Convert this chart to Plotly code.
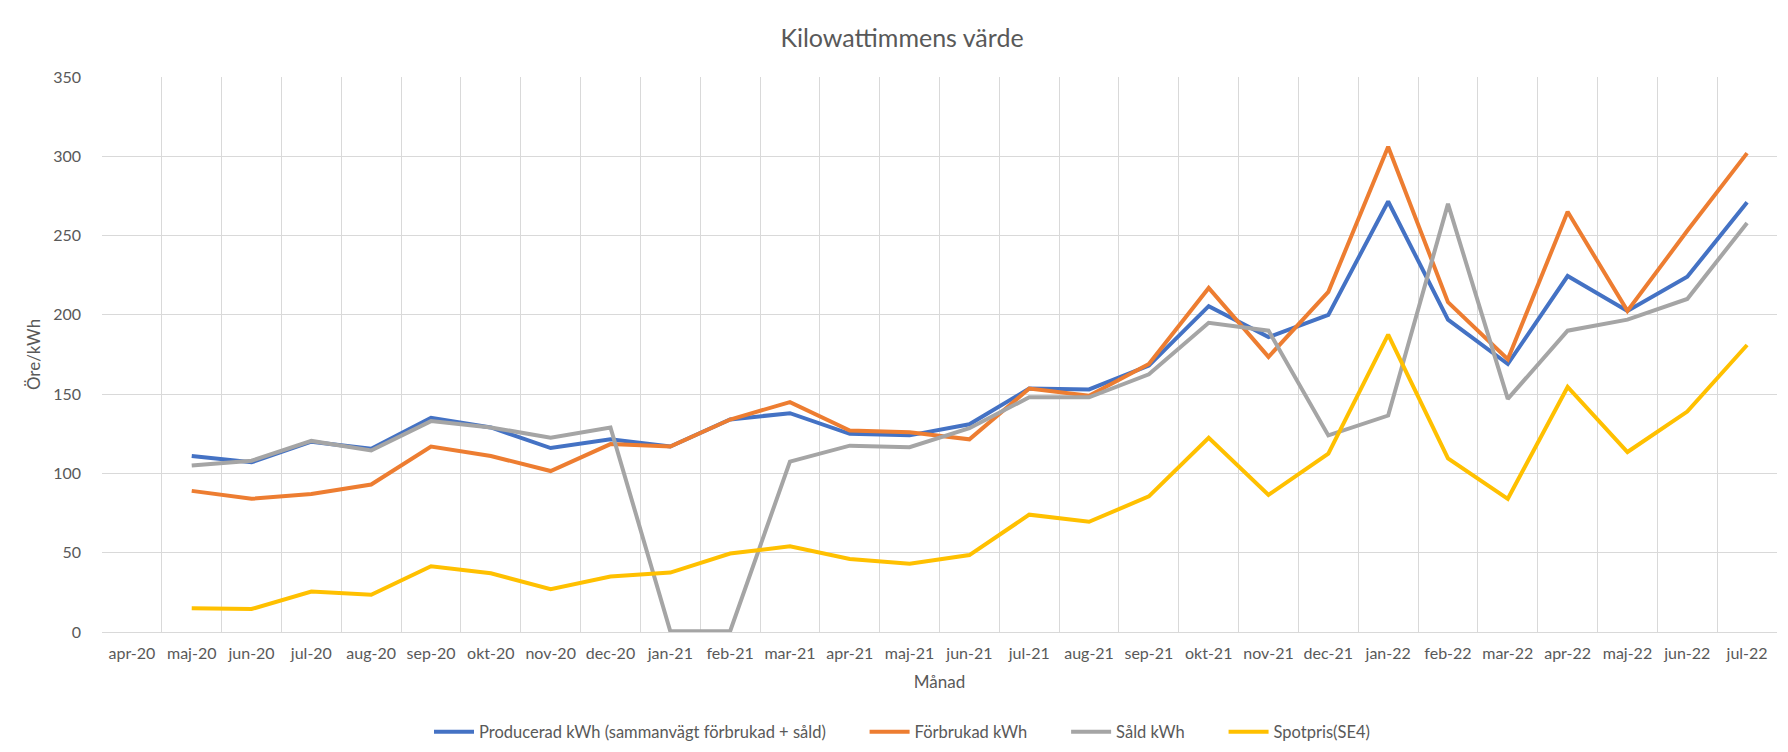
import plotly.graph_objects as go

months = ["apr-20", "maj-20", "jun-20", "jul-20", "aug-20", "sep-20", "okt-20", "nov-20", "dec-20",
          "jan-21", "feb-21", "mar-21", "apr-21", "maj-21", "jun-21", "jul-21", "aug-21", "sep-21",
          "okt-21", "nov-21", "dec-21", "jan-22", "feb-22", "mar-22", "apr-22", "maj-22", "jun-22", "jul-22"]

producerad = [None, 111, 107, 120, 115.5, 135, 129, 116, 121.5,
              117, 134, 138, 125, 124, 131, 153.5, 153, 168,
              205.5, 186, 200, 271.5, 197, 169, 224.5, 202.5, 224, 271]
forbrukad = [None, 89, 84, 87, 93, 117, 111, 101.5, 118.5,
             117, 134, 145, 127, 126, 121.5, 153.5, 149, 169,
             217, 173.5, 214.5, 306, 208, 172, 265, 202.5, 253, 302]
sald = [None, 105, 108, 120.5, 114.5, 133, 129, 122.5, 129,
        0.5, 0.5, 107.5, 117.5, 116.5, 128.5, 148, 148, 162.5,
        195, 190, 124, 136.5, 270, 147, 190, 197, 210, 258]
spotpris = [None, 15, 14.5, 25.5, 23.5, 41.5, 37, 27, 35,
            37.5, 49.5, 54, 46, 43, 48.5, 74, 69.5, 85.5,
            122.5, 86.5, 112.5, 187.5, 109.5, 84, 154.5, 113.5, 139, 181]

series_names = ["Producerad kWh (sammanvägt förbrukad + såld)", "Förbrukad kWh", "Såld kWh", "Spotpris(SE4)"]
series_values = [producerad, forbrukad, sald, spotpris]
series_colors = ["#4472C4", "#ED7D31", "#A5A5A5", "#FFC000"]

font_family = "Lato, 'Open Sans', sans-serif"
text_color = "#595959"
grid_color = "#D9D9D9"
pad = "\u00a0" * 8

fig = go.Figure()
for i, (name, vals, color) in enumerate(zip(series_names, series_values, series_colors)):
    label = name + (pad if i < len(series_names) - 1 else "")
    fig.add_trace(go.Scatter(
        x=months, y=vals, name=label, mode="lines",
        line=dict(color=color, width=4),
        connectgaps=False,
    ))

fig.update_layout(
    width=1788, height=752,
    paper_bgcolor="white", plot_bgcolor="white",
    margin=dict(l=94, r=19, t=69, b=128),
    font=dict(family=font_family, color=text_color, size=16),
    title=dict(text="Kilowattimmens värde", x=0.5, xref="container", xanchor="center",
               y=1 - 30 / 752, yref="container", yanchor="middle",
               font=dict(size=25, color=text_color, family=font_family)),
    showlegend=True,
    legend=dict(orientation="h", x=0.5, xref="container", xanchor="center",
                y=1 - 724 / 752, yref="container", yanchor="middle",
                font=dict(size=16.5, color=text_color), itemwidth=40,
                traceorder="normal"),
    xaxis=dict(
        type="category", categoryorder="array", categoryarray=months,
        tickson="boundaries", showgrid=True, gridcolor=grid_color, gridwidth=1,
        showline=True, linecolor=grid_color, linewidth=1, mirror=False,
        ticks="", tickfont=dict(size=16, color=text_color),
        ticklabelstandoff=7,
        title=dict(text="Månad", font=dict(size=17, color=text_color), standoff=14),
        range=[-0.5, 27.5],
    ),
    yaxis=dict(
        range=[0, 350], dtick=50, tick0=0,
        showgrid=True, gridcolor=grid_color, gridwidth=1,
        zeroline=True, zerolinecolor=grid_color, zerolinewidth=1,
        showline=False, ticks="", tickfont=dict(size=16, color=text_color),
        ticklabelstandoff=20,
        title=dict(text="Öre/kWh", font=dict(size=17, color=text_color), standoff=8),
    ),
)

fig.write_html("out.html")
